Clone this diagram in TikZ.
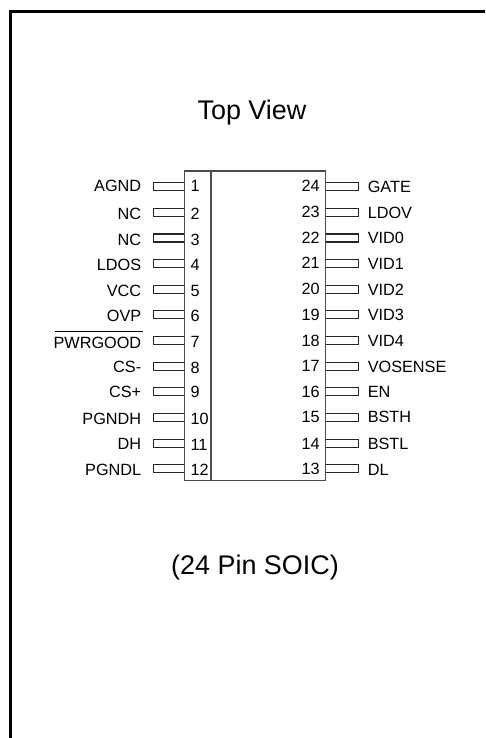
\documentclass[tikz,border=0pt]{standalone}
\usepackage{fontspec}
\setmainfont{Liberation Sans}
\begin{document}
\begin{tikzpicture}[x=0.75pt,y=-0.75pt,
  frame/.style={line width=2.25pt,black},
  chip/.style={draw=black!70,line width=0.9pt},
  pinbox/.style={draw=black!85,line width=0.8pt},
  lbl/.style={font=\fontsize{12.2pt}{14pt}\selectfont,inner sep=0pt},
  big/.style={font=\fontsize{20.2pt}{23pt}\selectfont,inner sep=0pt,anchor=base}]
\useasboundingbox (0,0) rectangle (485,738);
\coordinate (fa) at (10.5,738);
\coordinate (fb) at (10.5,11.5);
\coordinate (fc) at (485,11.5);
\draw[frame] (fa) -- (fb) -- (fc);
\node[big] (title) at (252,119.3) {Top View};
\node[big] (foot) at (255,574.3) {(24 Pin SOIC)};
\coordinate (c1) at (184.3,171);
\coordinate (c2) at (325.8,480.7);
\draw[chip] (c1) rectangle (c2);
\coordinate (d1) at (211,171);
\coordinate (d2) at (211,480.7);
\draw[chip] (d1) -- (d2);
\foreach \n/\t/\bl/\bn [count=\i from 0] in {
  1/AGND/191.7/191.7, 2/NC/219/219, 3/NC/245/245, 4/LDOS/270/270.7, 5/VCC/296/296, 6/OVP/321/321,
  7/PWRGOOD/348/347.3, 8/CS-/372.3/373.3, 9/CS+/397/397, 10/PGNDH/424/424, 11/DH/449/450.7, 12/PGNDL/475.7/475}{
  \pgfmathsetmacro\yy{186.7+25.65*\i}
  \draw[pinbox] (184.3,\yy-4) -- (153.3,\yy-4) -- (153.3,\yy+4) -- (184.3,\yy+4);
  \node[lbl,anchor=base east] (L\n) at (141.5,\bl) {\t};
  \node[lbl,anchor=base west] (PL\n) at (190.3,\bn) {\n};
}
\coordinate (oa) at (55,331.7);
\coordinate (ob) at (142.7,331.7);
\draw[black,line width=0.6pt] (oa) -- (ob);
\foreach \n/\t/\bl/\bn [count=\i from 0] in {
  24/GATE/192.7/191.7, 23/LDOV/218.3/217.3, 22/VID0/243.3/243.3, 21/VID1/269/268.3, 20/VID2/295.7/294.3, 19/VID3/320.7/320.7,
  18/VID4/346.7/346.7, 17/VOSENSE/372.7/371.7, 16/EN/397.7/397.3, 15/BSTH/422.7/422.7, 14/BSTL/449/449, 13/DL/475.7/474.3}{
  \pgfmathsetmacro\yy{186.7+25.65*\i}
  \draw[pinbox] (325.8,\yy-4) -- (358.3,\yy-4) -- (358.3,\yy+4) -- (325.8,\yy+4);
  \node[lbl,anchor=base west] (R\n) at (367.5,\bl) {\t};
  \node[lbl,anchor=base east] (PR\n) at (320,\bn) {\n};
}
\end{tikzpicture}
\end{document}
